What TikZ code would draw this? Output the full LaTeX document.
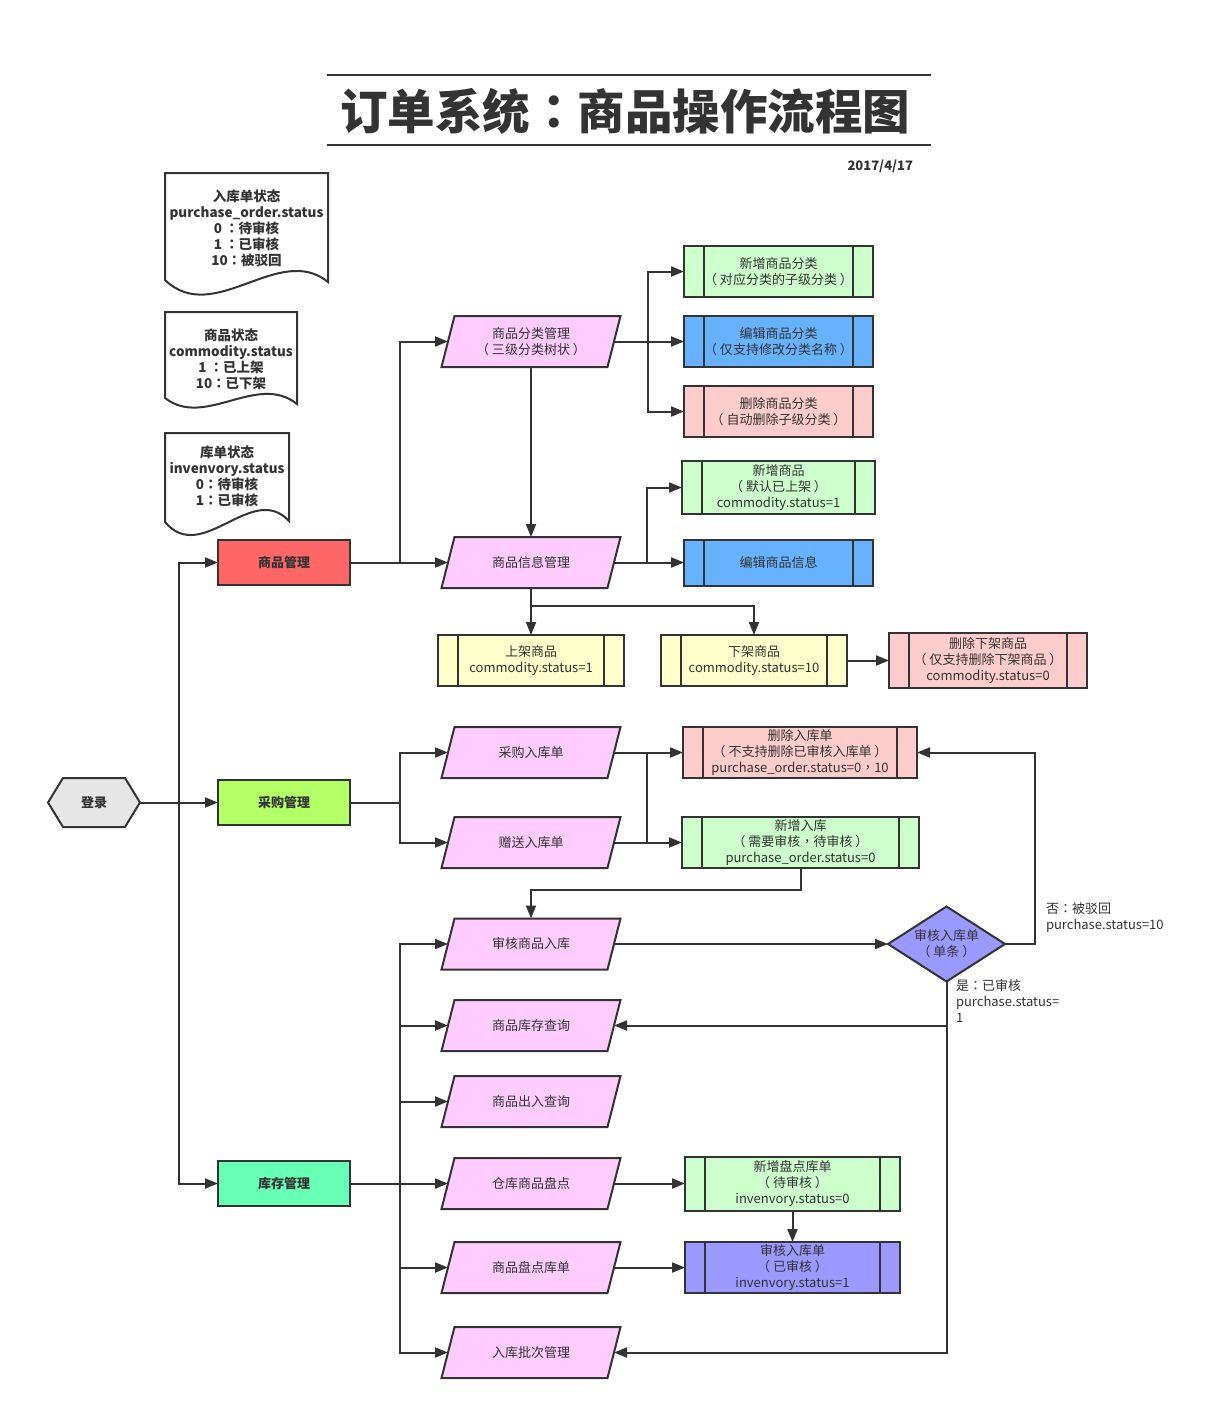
\documentclass[tikz,border=0pt]{standalone}
\usepackage{fontspec}
\setmainfont{Noto Sans CJK SC}
\newfontfamily\tcfont{Noto Sans CJK TC}
\newcommand\cco{{\tcfont ：}}
\newcommand\ccm{{\tcfont ，}}
\usetikzlibrary{arrows.meta,backgrounds,calc}
\definecolor{ln}{HTML}{333333}
\definecolor{cpink}{HTML}{FFCCFF}
\definecolor{cgreen}{HTML}{CCFFCC}
\definecolor{cblue}{HTML}{66B2FF}
\definecolor{cred}{HTML}{FFCCCC}
\definecolor{cyellow}{HTML}{FFFFCC}
\definecolor{cpurple}{HTML}{9999FF}
\definecolor{cgm}{HTML}{FF6666}
\definecolor{cpm}{HTML}{B3FF66}
\definecolor{ckm}{HTML}{66FFB3}
\definecolor{clogin}{HTML}{E6E6E6}
\newcommand\paraShape[3]{%
  \node[pnode] (#1) at (531,#2) {#3};
  \begin{pgfonlayer}{background}
  \filldraw[pshape] ([xshift=-6.5pt]#1.south west) -- ([xshift=6.5pt]#1.north west) -- ([xshift=6.5pt]#1.north east) -- ([xshift=-6.5pt]#1.south east) -- cycle;
  \end{pgfonlayer}}
\begin{document}
\begin{tikzpicture}[x=1pt,y=-1pt,
  base/.style={font=\fontsize{13}{16}\selectfont, text=ln, align=center, inner sep=0pt, outer sep=0pt},
  boldtext/.style={base, font=\fontsize{13}{16}\selectfont\bfseries},
  doctext/.style={base, font=\fontsize{13.5}{16}\selectfont\bfseries},
  pnode/.style={base, minimum width=166pt, minimum height=51pt},
  pshape/.style={draw=ln, fill=cpink, line width=2pt, line join=miter},
  ppbox/.style={base, draw=ln, line width=2pt,
    path picture={\draw[ln, line width=2pt]
      ([xshift=20pt]path picture bounding box.north west) -- ([xshift=20pt]path picture bounding box.south west)
      ([xshift=-20pt]path picture bounding box.north east) -- ([xshift=-20pt]path picture bounding box.south east);}},
  mgmt/.style={boldtext, draw=ln, line width=2pt, minimum width=132pt, minimum height=45pt},
  docshape/.style={draw=ln, fill=white, line width=2pt, line join=miter},
  arr/.style={draw=ln, line width=2pt, -{Triangle[length=13pt,width=10pt]}},
  conn/.style={draw=ln, line width=2pt},
  lbl/.style={base, align=left, anchor=north west}
]
\useasboundingbox (0,0) rectangle (1215,1409);
\begin{pgfonlayer}{background}
\fill[white] (0,0) rectangle (1215,1409);
\end{pgfonlayer}

% title
\node[base, font=\fontsize{47.5}{52}\selectfont\bfseries] (title) at (625,111) {订单系统\cco 商品操作流程图};
\draw[ln, line width=2pt] (327,75) -- (931,75);
\draw[ln, line width=2pt] (327,145) -- (931,145);
\node[boldtext, anchor=east] (date) at (913,166) {2017/4/17};

% documents
\draw[docshape] (165,173) -- (328,173) -- (328,282) .. controls (279,242) and (214,327) .. (165,280) -- cycle;
\node[doctext] (doc1) at (246.5,228) {入库单状态\\purchase\_order.status\\0 \cco 待审核\\1 \cco 已审核\\10\cco 被驳回};
\draw[docshape] (165,312) -- (297,312) -- (297,404) .. controls (257,372) and (205,429) .. (165,398) -- cycle;
\node[doctext] (doc2) at (231,359) {商品状态\\commodity.status\\1 \cco 已上架\\10\cco 已下架};
\draw[docshape] (165,433) -- (289,433) -- (289,521) .. controls (252,481) and (202,566) .. (165,522) -- cycle;
\node[doctext] (doc3) at (227,476) {库单状态\\invenvory.status\\0\cco 待审核\\1\cco 已审核};

% login hexagon
\node[boldtext, minimum width=92pt, minimum height=49pt] (login) at (94,802.5) {登录};
\begin{pgfonlayer}{background}
\filldraw[draw=ln, fill=clogin, line width=2pt] (login.west) -- ([xshift=15pt]login.north west) -- ([xshift=-15pt]login.north east) -- (login.east) -- ([xshift=-15pt]login.south east) -- ([xshift=15pt]login.south west) -- cycle;
\end{pgfonlayer}

% management boxes
\node[mgmt, fill=cgm] (gm) at (284,562.5) {商品管理};
\node[mgmt, fill=cpm] (pm) at (284,802.5) {采购管理};
\node[mgmt, fill=ckm] (km) at (284,1183.5) {库存管理};

% parallelograms
\paraShape{fl}{341.5}{商品分类管理\\（ 三级分类树状 ）}
\paraShape{info}{562.5}{商品信息管理}
\paraShape{cg}{752.5}{采购入库单}
\paraShape{zs}{842.5}{赠送入库单}
\paraShape{sh}{944}{审核商品入库}
\paraShape{kc}{1025.5}{商品库存查询}
\paraShape{crq}{1101.5}{商品出入查询}
\paraShape{pd}{1183.5}{仓库商品盘点}
\paraShape{pdk}{1267.5}{商品盘点库单}
\paraShape{pc}{1352.5}{入库批次管理}

% process boxes
\node[ppbox, fill=cgreen, minimum width=189pt, minimum height=51pt] (nc) at (778.5,271.5) {新增商品分类\\（ 对应分类的子级分类 ）};
\node[ppbox, fill=cblue, minimum width=189pt, minimum height=51pt] (ec) at (778.5,341.5) {编辑商品分类\\（ 仅支持修改分类名称 ）};
\node[ppbox, fill=cred, minimum width=189pt, minimum height=51pt] (dc) at (778.5,411.5) {删除商品分类\\（ 自动删除子级分类 ）};
\node[ppbox, fill=cgreen, minimum width=193pt, minimum height=53pt] (newc) at (778.5,487.5) {新增商品\\（ 默认已上架 ）\\commodity.status=1};
\node[ppbox, fill=cblue, minimum width=189pt, minimum height=46pt] (editinfo) at (778.5,562.5) {编辑商品信息};
\node[ppbox, fill=cyellow, minimum width=186pt, minimum height=51pt] (on) at (531,660.5) {上架商品\\commodity.status=1};
\node[ppbox, fill=cyellow, minimum width=186pt, minimum height=51pt] (off) at (754,660.5) {下架商品\\commodity.status=10};
\node[ppbox, fill=cred, minimum width=198pt, minimum height=55pt] (deloff) at (988,660.5) {删除下架商品\\（ 仅支持删除下架商品 ）\\commodity.status=0};
\node[ppbox, fill=cred, minimum width=234pt, minimum height=51pt] (delin) at (800,752.5) {删除入库单\\（ 不支持删除已审核入库单 ）\\purchase\_order.status=0\ccm 10};
\node[ppbox, fill=cgreen, minimum width=237pt, minimum height=51pt] (newin) at (800.5,842.5) {新增入库\\（ 需要审核\ccm 待审核 ）\\purchase\_order.status=0};
\node[ppbox, fill=cgreen, minimum width=215pt, minimum height=54pt] (newpd) at (792.5,1183.5) {新增盘点库单\\（ 待审核 ）\\invenvory.status=0};
\node[ppbox, fill=cpurple, minimum width=215pt, minimum height=51pt] (audit) at (792.5,1267.5) {审核入库单\\（ 已审核 ）\\invenvory.status=1};

% diamond
\node[base, minimum width=117pt, minimum height=75pt] (dia) at (946.5,944) {审核入库单\\（ 单条 ）};
\begin{pgfonlayer}{background}
\filldraw[draw=ln, fill=cpurple, line width=2pt, line join=miter] (dia.west) -- (dia.north) -- (dia.east) -- (dia.south) -- cycle;
\end{pgfonlayer}

% labels
\node[lbl] (no) at (1046,903) {否\cco 被驳回\\purchase.status=10};
\node[lbl] (yes) at (956,979) {是\cco 已审核\\purchase.status=\\1};

% connectors
\coordinate (j1) at (179,802.5);
\draw[arr] (login.east) -- (pm.west);
\draw[arr] (j1) |- (gm.west);
\draw[arr] (j1) |- (km.west);

\coordinate (j2) at (400,562.5);
\draw[arr] (gm.east) -- (info.west);
\draw[arr] (j2) |- (fl.west);

\coordinate (j3) at (648,341.5);
\draw[arr] (fl.east) -- (ec.west);
\draw[arr] (j3) |- (nc.west);
\draw[arr] (j3) |- (dc.west);
\draw[arr] (fl.south) -- (info.north);

\coordinate (j4) at (647,562.5);
\draw[arr] (info.east) -- (editinfo.west);
\draw[arr] (j4) |- (newc.west);

\coordinate (j5) at (531,606);
\draw[arr] (info.south) -- (on.north);
\draw[arr] (j5) -| (off.north);
\draw[arr] (off.east) -- (deloff.west);

\coordinate (j6) at (400,802.5);
\draw[conn] (pm.east) -- (j6);
\draw[arr] (j6) |- (cg.west);
\draw[arr] (j6) |- (zs.west);

\coordinate (j7) at (647,752.5);
\coordinate (j8) at (647,842.5);
\draw[arr] (cg.east) -- (delin.west);
\draw[arr] (zs.east) -- (newin.west);
\draw[conn] (j7) -- (j8);

\coordinate (j9) at (800.5,890);
\draw[arr] (newin.south) -- (j9) -| (sh.north);
\draw[arr] (sh.east) -- (dia.west);
\coordinate (j10) at (1035,944);
\draw[arr] (dia.east) -- (j10) |- (delin.east);
\draw[arr] (dia.south) |- (kc.east);
\draw[arr] (dia.south) |- (pc.east);

\coordinate (j11) at (400,1183.5);
\draw[conn] (km.east) -- (j11);
\draw[conn] (400,944) -- (400,1352.5);
\draw[arr] (j11) |- (sh.west);
\draw[arr] (j11) |- (kc.west);
\draw[arr] (j11) |- (crq.west);
\draw[arr] (j11) -- (pd.west);
\draw[arr] (j11) |- (pdk.west);
\draw[arr] (j11) |- (pc.west);

\draw[arr] (pd.east) -- (newpd.west);
\draw[arr] (pdk.east) -- (audit.west);
\draw[arr] (newpd.south) -- (audit.north);
\end{tikzpicture}
\end{document}
